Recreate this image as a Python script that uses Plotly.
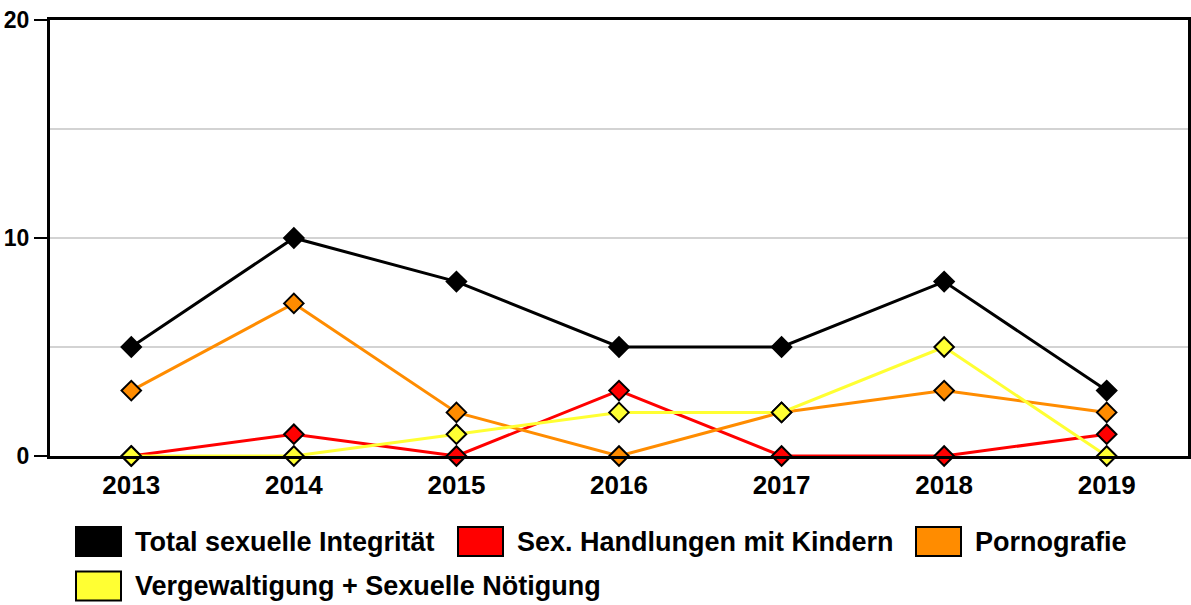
import plotly.graph_objects as go

years = ["2013", "2014", "2015", "2016", "2017", "2018", "2019"]
total = [5, 10, 8, 5, 5, 8, 3]
kinder = [0, 1, 0, 3, 0, 0, 1]
porno = [3, 7, 2, 0, 2, 3, 2]
vergew = [0, 0, 1, 2, 2, 5, 0]

names = ["Total sexuelle Integrität", "Sex. Handlungen mit Kindern", "Pornografie",
         "Vergewaltigung + Sexuelle Nötigung"]
colors = ["#000000", "#ff0000", "#ff8c00", "#ffff33"]
series = [total, kinder, porno, vergew]

W, H = 1191, 605
L, R, T, B = 50, 3, 20, 149
pw, ph = W - L - R, H - T - B

fig = go.Figure()
for n, c, s in zip(names, colors, series):
    fig.add_trace(go.Scatter(
        x=years, y=s, name=n, mode="lines+markers",
        line=dict(color=c, width=3),
        marker=dict(symbol="diamond", size=15, color=c, line=dict(color="#000000", width=2)),
        showlegend=False, cliponaxis=False))

def px2paper(x, y):
    return (x - L) / pw, (H - B - y) / ph

FAM = "Liberation Sans, Arial, sans-serif"
# legend: (box left, row centre y, text left, index)
legend_items = [(76, 541.5, 135, 0), (458, 541.5, 517, 1), (916, 541.5, 975, 2), (76, 586, 135, 3)]
for x0, yc, tx0, i in legend_items:
    ax0, ay0 = px2paper(x0, yc + 14.5)
    ax1, ay1 = px2paper(x0 + 45, yc - 14.5)
    fig.add_shape(type="rect", xref="paper", yref="paper", x0=ax0, y0=ay0, x1=ax1, y1=ay1,
                  fillcolor=colors[i], line=dict(color="#000000", width=2))
    tx, ty = px2paper(tx0, yc)
    fig.add_annotation(xref="paper", yref="paper", x=tx, y=ty, xanchor="left", yanchor="middle",
                       xshift=-2, text="<b>" + names[i] + "</b>", showarrow=False,
                       font=dict(family=FAM, size=27, color="#000000"))

fig.update_layout(
    width=W, height=H,
    margin=dict(l=L, r=R, t=T, b=B, autoexpand=False),
    plot_bgcolor="#ffffff", paper_bgcolor="#ffffff",
    font=dict(family=FAM, color="#000000"),
    hovermode=False,
    xaxis=dict(type="category", range=[-0.5, 6.5], showgrid=False, showline=True,
               linecolor="#000000", linewidth=3, mirror=True, automargin=False,
               ticks="outside", ticklen=4, tickcolor="rgba(0,0,0,0)",
               tickfont=dict(family=FAM, size=26, weight="bold", color="#000000"),
               zeroline=False),
    yaxis=dict(range=[0, 20], tickvals=[0, 10, 20], showgrid=True, gridcolor="#d3d3d3", gridwidth=2,
               showline=True, linecolor="#000000", linewidth=3, mirror=True, automargin=False,
               ticks="outside", ticklen=13, tickwidth=2, tickcolor="#000000",
               minor=dict(dtick=5, showgrid=True, gridcolor="#d3d3d3", gridwidth=2, ticks=""),
               tickfont=dict(family=FAM, size=23, weight="bold", color="#000000"),
               zeroline=False),
)

fig.write_html("out.html", config={"displayModeBar": False},
               post_script="document.body.style.margin='0';document.body.style.padding='0';")
